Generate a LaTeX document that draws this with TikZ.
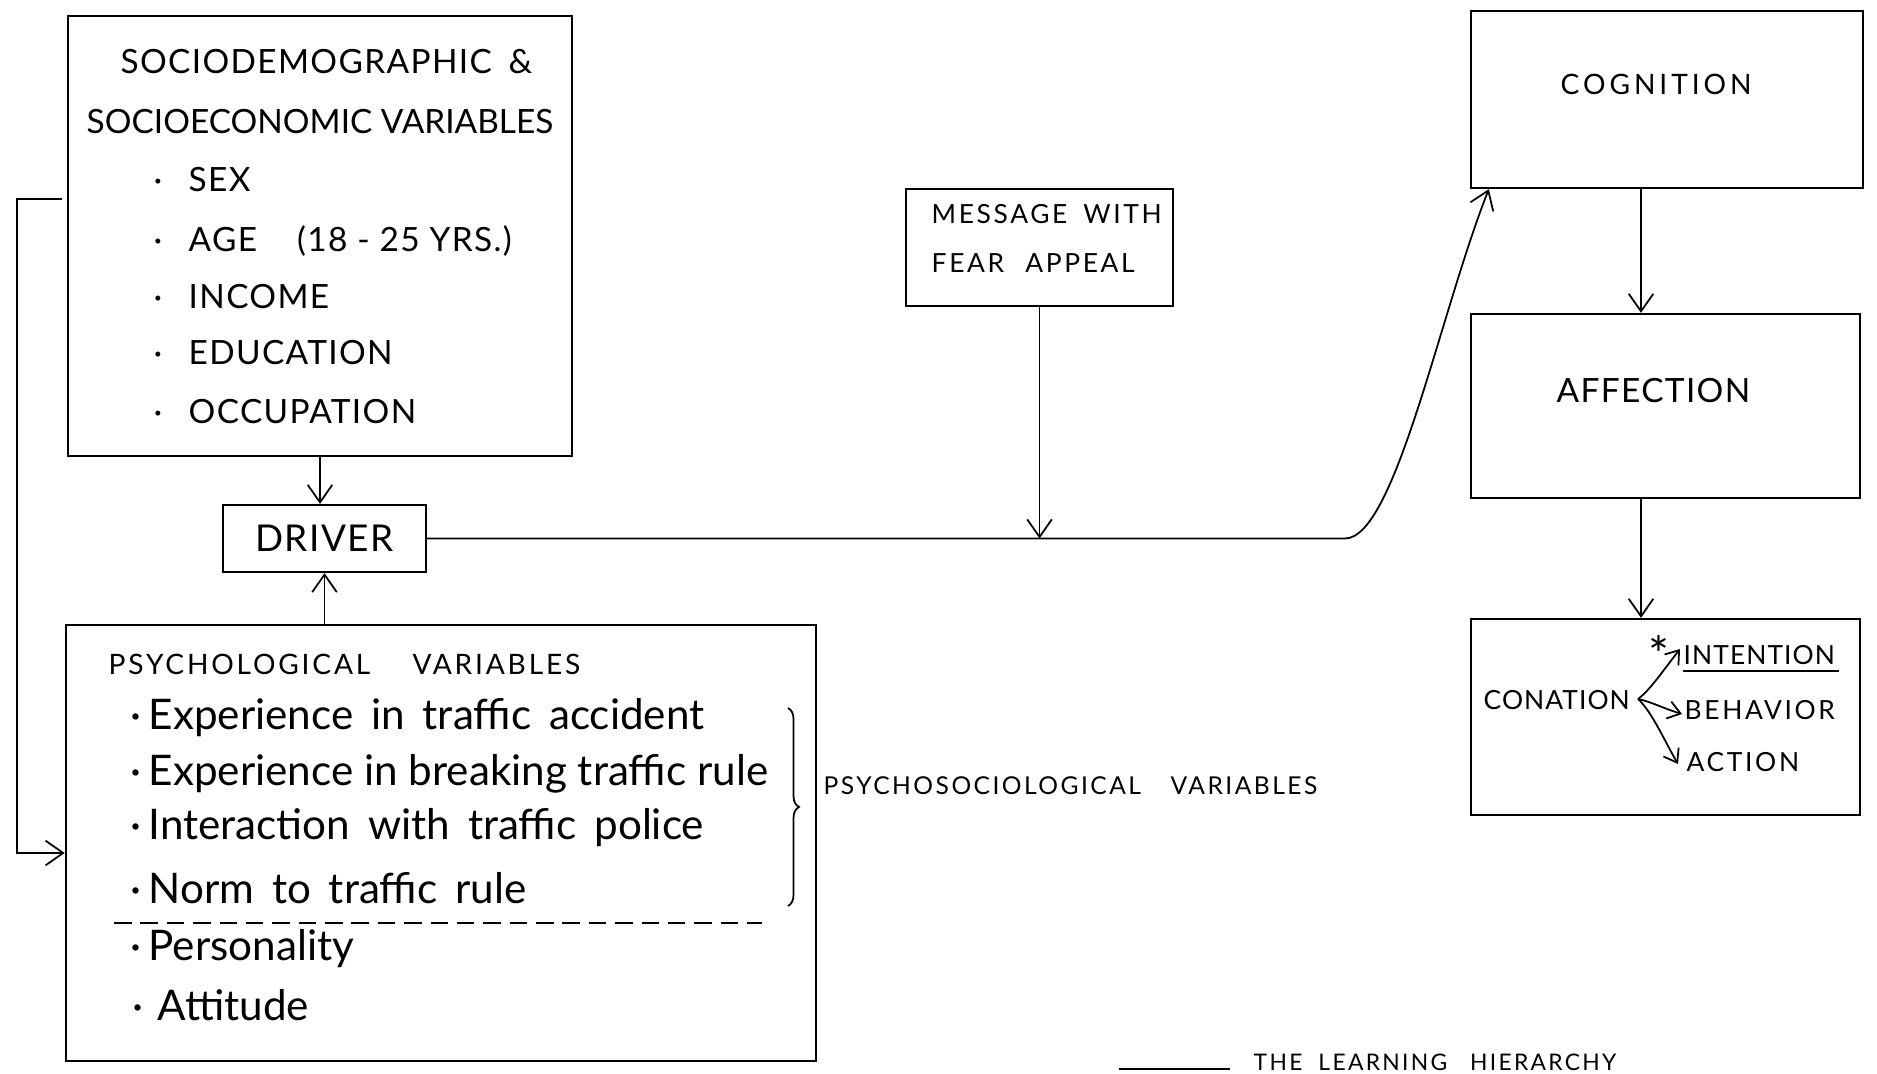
\documentclass[tikz,border=0pt]{standalone}
\usepackage{fontspec}
\setmainfont{Lato}
\newfontfamily\hwA{Lato}[LetterSpace=4]
\newfontfamily\hwB{Lato}[LetterSpace=10]
\newfontfamily\hwC{Lato}[LetterSpace=14]
\usetikzlibrary{arrows.meta,decorations.pathreplacing}
\begin{document}
\begin{tikzpicture}[x=0.01cm,y=-0.01cm,
  box/.style={draw,line width=0.6pt,inner sep=0pt,rectangle},
  txt/.style={inner sep=0pt,anchor=west},
  capbig/.style={txt,font=\hwA\fontsize{9.5}{11}\selectfont},
  capmid/.style={txt,font=\hwB\fontsize{8}{10}\selectfont},
  capsml/.style={txt,font=\hwC\fontsize{7}{9}\selectfont},
  lower/.style={txt,font=\fontsize{12}{14}\selectfont},
  arr/.style={line width=0.5pt,-{Straight Barb[length=5pt,width=7pt]}},
  sarr/.style={line width=0.5pt,-{Straight Barb[length=3.5pt,width=5pt]}},
  ln/.style={line width=0.5pt}]
\useasboundingbox (0,0) rectangle (1877,1074);

% Sociodemographic box
\node[box,minimum width=5.04cm,minimum height=4.40cm] (socio) at (320,236) {};
\node[capbig] (s1) at (120,62) {SOCIODEMOGRAPHIC\hspace{0.5em}\&};
\node[txt,font=\fontsize{9.5}{11}\selectfont] (s2) at (86,122) {SOCIOECONOMIC VARIABLES};
\node[capbig] (s3) at (153,180) {\makebox[0.35cm][l]{·}SEX};
\node[capbig] (s4) at (153,241) {\makebox[0.35cm][l]{·}AGE\hspace{1.2em}(18 - 25 YRS.)};
\node[capbig] (s5) at (153,297) {\makebox[0.35cm][l]{·}INCOME};
\node[capbig] (s6) at (153,353) {\makebox[0.35cm][l]{·}EDUCATION};
\node[capbig] (s7) at (153,412) {\makebox[0.35cm][l]{·}OCCUPATION};

% Driver
\node[box,minimum width=2.03cm,minimum height=0.67cm,font=\hwA\fontsize{10.5}{12}\selectfont] (driver) at (324.5,538.5) {DRIVER};

% Psychological box
\node[box,minimum width=7.50cm,minimum height=4.36cm] (psych) at (441,843) {};
\node[capmid] (p0) at (108,664) {PSYCHOLOGICAL\hspace{1.5em}VARIABLES};
\node[lower] (p1) at (130,718) {·\,Experience\, in\, traffic\, accident};
\node[lower] (p2) at (130,774) {·\,Experience in breaking traffic rule};
\node[lower] (p3) at (130,828) {·\,Interaction\, with\, traffic\, police};
\node[lower] (p4) at (130,888) {·\,Norm\, to\, traffic\, rule};
\node[lower] (p5) at (130,949) {·\,Personality};
\node[lower] (p6) at (132,1005) {·\,\,Attitude};
\coordinate (dashL) at (114,923);
\coordinate (dashR) at (762,923);
\draw[ln,dash pattern=on 5pt off 2.5pt] (dashL) -- (dashR);
\coordinate (braceT) at (788,708);
\coordinate (braceB) at (788,906);
\draw[ln,decorate,decoration={brace,amplitude=0.11cm}] (braceT) -- (braceB);
\node[capsml,font=\hwB\fontsize{7}{9}\selectfont] (psycho) at (823,786) {PSYCHOSOCIOLOGICAL\hspace{1.2em}VARIABLES};

% Message box
\node[box,minimum width=2.67cm,minimum height=1.17cm] (msg) at (1039.5,247.5) {};
\node[capmid,font=\hwB\fontsize{7.5}{9}\selectfont] (m1) at (931,214) {MESSAGE\hspace{0.6em}WITH};
\node[capmid,font=\hwB\fontsize{7.5}{9}\selectfont] (m2) at (931,263) {FEAR\hspace{0.8em}APPEAL};

% Learning hierarchy boxes
\node[box,minimum width=3.92cm,minimum height=1.77cm] (cog) at (1667,99.5) {};
\node[txt,font=\hwC\fontsize{8}{10}\selectfont] (cogt) at (1560,84) {COGNITION};
\node[box,minimum width=3.89cm,minimum height=1.84cm] (aff) at (1665.5,406) {};
\node[txt,font=\hwA\fontsize{9.5}{11}\selectfont] (afft) at (1556,391) {AFFECTION};
\node[box,minimum width=3.89cm,minimum height=1.96cm] (con) at (1665.5,717) {};
\node[txt,font=\hwA\fontsize{7.5}{9}\selectfont] (cont) at (1483,700) {CONATION};
\node[txt,font=\hwA\fontsize{7.5}{9}\selectfont] (inten) at (1683,655) {INTENTION};
\node[txt,font=\hwB\fontsize{7.5}{9}\selectfont] (behav) at (1684,710) {BEHAVIOR};
\node[txt,font=\hwB\fontsize{7.5}{9}\selectfont] (act) at (1686,762) {ACTION};
\node[inner sep=0pt,font=\fontsize{14}{14}\selectfont] (star) at (1659,654) {*};
\draw[ln] ([yshift=-0.06cm]inten.south west) -- ([yshift=-0.06cm,xshift=0.03cm]inten.south east);
\coordinate (fork) at (1638,699);
\draw[sarr] (fork) .. controls (1650,690) and (1662,672) .. ([xshift=-0.03cm,yshift=0.06cm]inten.west);
\draw[sarr] (fork) .. controls (1652,702) and (1662,708) .. ([xshift=-0.02cm,yshift=-0.04cm]behav.west);
\draw[sarr] (fork) .. controls (1652,712) and (1664,740) .. ([xshift=-0.08cm,yshift=-0.02cm]act.west);

% Legend
\coordinate (legL) at (1119,1069);
\coordinate (legR) at (1230,1069);
\draw[line width=0.7pt] (legL) -- (legR);
\node[txt,font=\hwB\fontsize{6.5}{8}\selectfont] (legt) at (1253,1062) {THE\hspace{0.7em}LEARNING\hspace{1em}HIERARCHY};

% Connectors
\draw[arr] (socio.south) -- (socio.south |- driver.north);
\draw[arr] (driver.south |- psych.north) -- (driver.south);
\coordinate (fbTop) at (62,199);
\coordinate (fbCornerT) at (17,199);
\coordinate (fbCornerB) at (17,853);
\draw[arr] (fbTop) -- (fbCornerT) -- (fbCornerB) -- (psych.west |- fbCornerB);
\coordinate (bendpt) at (1345,538.5);
\draw[arr] (driver.east) -- (bendpt) .. controls (1395,538.5) and (1440,312) .. ([xshift=0.19cm]cog.south west);
\draw[arr] (msg.south) -- (msg.south |- driver.east);
\draw[arr] ([xshift=-0.26cm]cog.south) -- ([xshift=-0.245cm]aff.north);
\draw[arr] ([xshift=-0.245cm]aff.south) -- ([xshift=-0.245cm]con.north);
\end{tikzpicture}
\end{document}
